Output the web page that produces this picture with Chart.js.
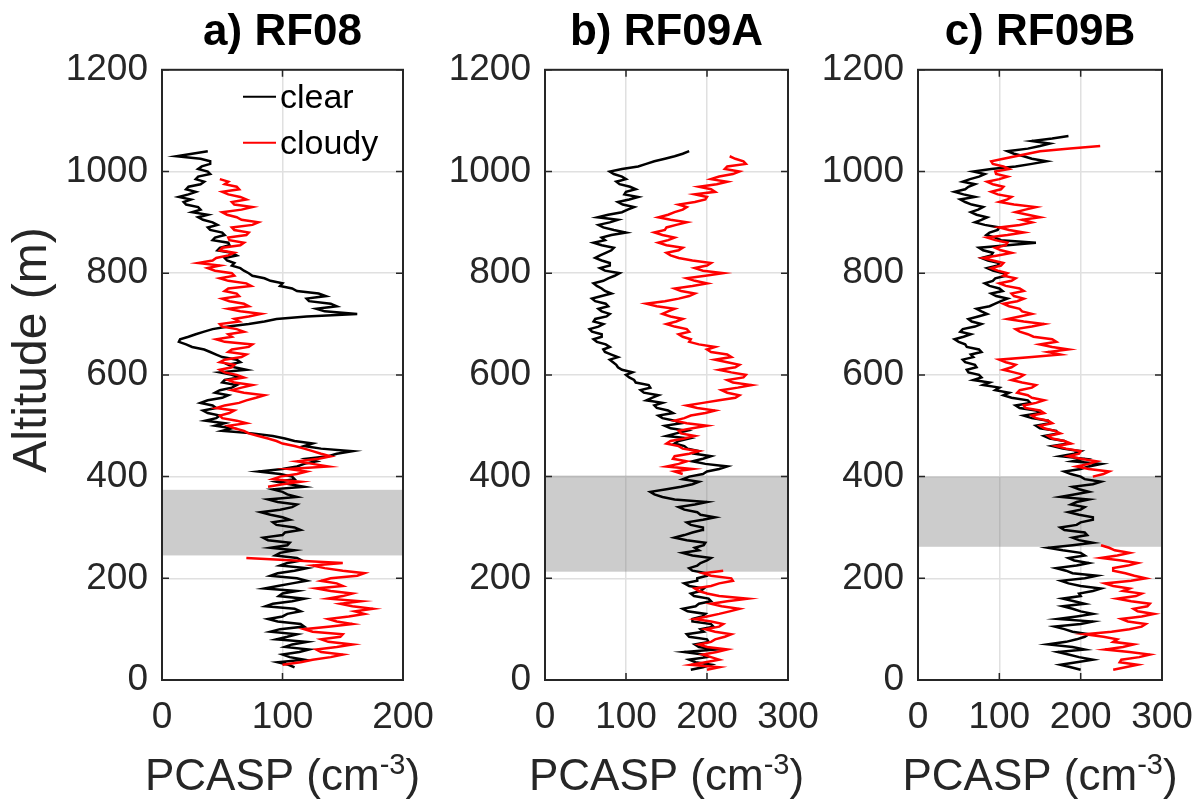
<!DOCTYPE html>
<html>
<head>
<meta charset="utf-8">
<script src="https://cdn.jsdelivr.net/npm/chart.js@4.4.1/dist/chart.umd.min.js"></script>
<style>
html, body { margin: 0; padding: 0; background: #fff; overflow: hidden; }
canvas { position: absolute; top: 0; }
</style>
</head>
<body>
<canvas id="panelA" width="450" height="807" style="left:0px"></canvas>
<canvas id="panelB" width="390" height="807" style="left:440px"></canvas>
<canvas id="panelC" width="386" height="807" style="left:815px"></canvas>
<script>
// Altitude levels (m), 5 m apart, shared by all profiles
var altitude = [
    20, 25, 30, 35, 40, 45, 50, 55, 60, 65, 70, 75, 80, 85, 90, 95, 100, 105, 110, 115,
    120, 125, 130, 135, 140, 145, 150, 155, 160, 165, 170, 175, 180, 185, 190, 195, 200, 205, 210, 215,
    220, 225, 230, 235, 240, 245, 250, 255, 260, 265, 270, 275, 280, 285, 290, 295, 300, 305, 310, 315,
    320, 325, 330, 335, 340, 345, 350, 355, 360, 365, 370, 375, 380, 385, 390, 395, 400, 405, 410, 415,
    420, 425, 430, 435, 440, 445, 450, 455, 460, 465, 470, 475, 480, 485, 490, 495, 500, 505, 510, 515,
    520, 525, 530, 535, 540, 545, 550, 555, 560, 565, 570, 575, 580, 585, 590, 595, 600, 605, 610, 615,
    620, 625, 630, 635, 640, 645, 650, 655, 660, 665, 670, 675, 680, 685, 690, 695, 700, 705, 710, 715,
    720, 725, 730, 735, 740, 745, 750, 755, 760, 765, 770, 775, 780, 785, 790, 795, 800, 805, 810, 815,
    820, 825, 830, 835, 840, 845, 850, 855, 860, 865, 870, 875, 880, 885, 890, 895, 900, 905, 910, 915,
    920, 925, 930, 935, 940, 945, 950, 955, 960, 965, 970, 975, 980, 985, 990, 995, 1000, 1005, 1010, 1015,
    1020, 1025, 1030, 1035, 1040, 1045, 1050, 1055, 1060, 1065, 1070
];

// PCASP (cm-3), one value per altitude level (null = no data)
var rf08Clear = [
    null, 110, 105, 96, 118, 106, 100, 114, 122, 102, 108, 120, 95, 104, 112, 90, 98, 118, 115, 96,
    88, 100, 104, 115, 110, 86, 92, 108, 118, 97, 100, 112, 85, 96, 108, 120, 112, 90, 96, 110,
    120, 98, 104, 116, 112, 94, 98, 110, 90, 104, 106, 88, 84, 100, 102, 115, 110, 95, 92, 106,
    100, 90, 82, 98, 108, 112, 96, 88, 112, 104, 100, 92, 118, 106, 95, 110, 108, 98, 80, 100,
    112, 118, 128, 120, 138, 145, 158, 132, 118, 125, 110, 102, 92, 75, 50, 58, 44, 52, 36, 45,
    48, 38, 34, 45, 42, 32, 38, 50, 55, 44, 48, 58, 62, 50, 52, 64, 58, 48, 70, 60,
    55, 65, 62, 50, 45, 40, 35, 25, 20, 14, 15, 22, 28, 35, 42, 55, 72, 85, 95, 120,
    162, 135, 128, 145, 140, 122, 120, 136, 130, 112, 108, 98, 100, 90, 85, 75, 72, 68, 65, 58,
    60, 54, 52, 62, 58, 46, 48, 56, 55, 42, 44, 52, 50, 40, 38, 46, 42, 34, 30, 38,
    25, 32, 30, 20, 18, 24, 14, 22, 28, 20, 22, 32, 35, 28, 30, 40, 38, 30, 33, 40,
    40, 32, 12, 25, 38, null, null, null, null, null, null
];
var rf08Cloudy = [
    null, null, 100, 115, 125, 140, 150, 132, 128, 145, 158, 138, 132, 148, 150, 125, 118, 140, 158, 145,
    138, 155, 168, 160, 175, 158, 148, 165, 138, 150, 158, 140, 128, 150, 145, 132, 140, 162, 168, 150,
    135, 125, 150, 110, 70, null, null, null, null, null, null, null, null, null, null, null, null, null, null, null,
    null, null, null, null, null, null, null, null, null, null, null, null, 88, 100, 115, 92, 98, 112, 120, 105,
    138, 125, 112, 130, 140, 132, 125, 118, 110, 100, 95, 88, 80, 72, 68, 60, 55, 70, 62, 50,
    48, 56, 60, 45, 52, 64, 70, 78, 85, 68, 58, 66, 75, 60, 55, 68, 62, 52, 48, 58,
    60, 48, 52, 66, 70, 55, 58, 72, 75, 52, 45, 58, 55, 68, 62, 50, 48, 64, 60, 72,
    82, 65, 55, 72, 68, 56, 50, 64, 62, 52, 55, 74, 70, 55, 48, 60, 58, 44, 38, 48,
    30, 42, 45, 55, 60, 48, 50, 65, 68, 56, 55, 70, 72, 60, 58, 75, 80, 66, 62, 54,
    50, 66, 75, 60, 58, 70, 65, 55, 50, 64, 62, 52, 55, 48, null, null, null, null, null, null,
    null, null, null, null, null, null, null, null, null, null, null
];
var rf09aClear = [
    180, 195, 205, 186, 178, 200, 195, 172, 210, 190, 185, 202, 200, 178, 175, 196, 192, 208, 205, 182,
    182, 194, 198, 176, 170, 186, 190, 205, 202, 184, 180, 192, 196, 178, 172, 188, 188, 200, 200, 182,
    178, 188, 192, 200, 205, 182, 170, 190, 185, 196, 198, 175, 160, 172, 182, 194, 195, 180, 175, 195,
    210, 192, 188, 172, 165, 185, 200, 160, 145, 135, 130, 150, 168, 182, 190, 170, 178, 195, 200, 215,
    225, 198, 182, 195, 205, 185, 190, 176, 172, 160, 165, 178, 150, 162, 175, 155, 148, 168, 160, 145,
    140, 158, 152, 138, 135, 145, 125, 132, 140, 122, 118, 130, 128, 112, 110, 104, 100, 108, 95, 90,
    88, 84, 80, 90, 82, 74, 72, 80, 75, 64, 60, 70, 70, 58, 55, 66, 72, 60, 62, 76,
    80, 70, 66, 78, 75, 62, 58, 70, 82, 74, 70, 64, 60, 72, 78, 86, 92, 74, 68, 80,
    80, 70, 62, 68, 75, 82, 85, 70, 60, 74, 70, 82, 100, 85, 72, 66, 80, 90, 65, 78,
    95, 102, 110, 96, 90, 104, 115, 98, 100, 112, 105, 92, 88, 100, 95, 85, 80, 95, 115, 125,
    135, 148, 160, 170, 178, null, null, null, null, null, null
];
var rf09aCloudy = [
    200, 215, 180, 198, 215, 205, 195, 212, 225, 200, 190, 205, 210, 222, 230, 210, 198, 215, 220, 205,
    185, 200, 215, 228, 240, 218, 205, 225, 250, 215, 200, 190, 185, 205, 215, 232, 230, 205, 195, 220,
    null, null, null, null, null, null, null, null, null, null, null, null, null, null, null, null, null, null, null, null,
    null, null, null, null, null, null, null, null, null, null, null, null, null, null, null, null, null, 170, 160, 182,
    150, 165, 175, 158, 160, 178, 190, 170, 165, 150, 155, 172, 185, 168, 165, 182, 200, 175, 160, 172,
    180, 198, 210, 188, 175, 195, 215, 235, 240, 225, 218, 238, 255, 232, 225, 245, 248, 230, 215, 235,
    240, 225, 210, 230, 225, 205, 200, 210, 190, 178, 180, 170, 165, 178, 175, 160, 150, 162, 170, 155,
    145, 152, 160, 138, 125, 148, 165, 178, 185, 168, 160, 182, 200, 185, 175, 198, 220, 195, 185, 200,
    205, 182, 165, 155, 150, 165, 170, 150, 140, 152, 160, 145, 135, 148, 150, 162, 175, 155, 140, 152,
    160, 170, 175, 165, 185, 198, 200, 185, 210, 205, 190, 212, 225, 205, 215, 232, 240, 222, 225, 248,
    245, 235, 228, null, null, null, null, null, null, null, null
];
var rf09bClear = [
    200, 188, 175, 195, 215, 198, 185, 172, 205, 190, 160, 182, 195, 205, 210, 190, 180, 168, 200, 215,
    172, 195, 215, 200, 190, 178, 205, 192, 178, 200, 198, 215, 225, 200, 185, 176, 205, 220, 190, 182,
    170, 195, 210, 192, 185, 205, 200, 178, 160, 190, 215, 198, 190, 208, 205, 180, 175, 195, 200, 215,
    215, 198, 185, 200, 205, 188, 195, 210, 175, 192, 210, 198, 190, 215, 225, 205, 200, 188, 180, 200,
    210, 225, 190, 205, 175, 192, 200, 178, 165, 185, 180, 162, 155, 172, 170, 150, 145, 162, 160, 140,
    130, 150, 145, 125, 120, 138, 135, 115, 105, 112, 95, 100, 80, 88, 68, 78, 75, 62, 60, 72,
    70, 58, 55, 68, 65, 78, 75, 60, 58, 50, 45, 56, 65, 52, 55, 70, 78, 66, 62, 74,
    85, 78, 72, 88, 95, 102, 110, 96, 90, 104, 100, 88, 82, 92, 95, 108, 105, 92, 85, 98,
    100, 86, 78, 90, 92, 80, 75, 110, 145, 102, 95, 84, 88, 98, 100, 82, 70, 78, 85, 72,
    65, 74, 80, 66, 58, 52, 70, 56, 45, 58, 62, 70, 55, 64, 75, 82, 68, 90, 120, 140,
    158, 140, 130, 118, 110, 135, 150, 162, 140, 165, 185
];
var rf09bCloudy = [
    240, 255, 270, 248, 250, 272, 285, 260, 230, 252, 265, 240, 245, 228, 205, 238, 260, 275, 280, 258,
    250, 275, 290, 270, 265, 282, 285, 262, 245, 268, 275, 252, 260, 240, 230, 262, 280, 266, 255, 240,
    240, 258, 270, 250, 225, 245, 260, 242, 235, 225, null, null, null, null, null, null, null, null, null, null,
    null, null, null, null, null, null, null, null, null, null, null, null, null, null, null, null, 215, 228, 235, 210,
    195, 210, 220, 200, 185, 198, 200, 182, 170, 188, 180, 165, 160, 175, 168, 155, 150, 165, 160, 145,
    140, 155, 150, 132, 130, 145, 155, 140, 135, 122, 125, 140, 145, 128, 115, 125, 130, 118, 105, 115,
    120, 108, 100, 140, 175, 160, 185, 165, 150, 170, 165, 142, 135, 125, 120, 140, 155, 130, 110, 125,
    140, 128, 125, 112, 105, 122, 130, 118, 115, 130, 125, 108, 100, 115, 120, 105, 110, 98, 90, 102,
    105, 92, 80, 98, 115, 102, 95, 108, 110, 95, 85, 110, 130, 112, 100, 125, 140, 128, 150, 135,
    120, 132, 145, 118, 100, 110, 115, 98, 90, 102, 105, 92, 85, 100, 110, 96, 95, 112, 105, 92,
    90, 105, 120, 135, 150, 187, 224, null, null, null, null
];

var panelTitles = ['a) RF08', 'b) RF09A', 'c) RF09B'];
var xMax = [200, 300, 300];
var bandBottom = [245, 213, 262];  // grey layer, m
var bandTop = [374, 402, 400];
var legendLabels = ['clear', 'cloudy'];

var FONT = '"Liberation Sans", Arial, Helvetica, sans-serif';
var AXIS_COLOR = '#262626';

function profile(vals) {
    return altitude.map(function(a, i) { return { x: vals[i], y: a }; });
}

// Grey band, box with inward ticks, axis labels and the in-plot legend
var panelDecor = {
    id: 'panelDecor',
    beforeDatasetsDraw: function(chart, args, opts) {
        var area = chart.chartArea, y = chart.scales.y, ctx = chart.ctx;
        var t = y.getPixelForValue(opts.bandTop), b = y.getPixelForValue(opts.bandBottom);
        ctx.save();
        ctx.fillStyle = 'rgba(128,128,128,0.4)';
        ctx.fillRect(area.left, t, area.right - area.left, b - t);
        ctx.restore();
    },
    afterDatasetsDraw: function(chart) {
        var area = chart.chartArea, ctx = chart.ctx;
        var xs = chart.scales.x, ys = chart.scales.y;
        ctx.save();
        ctx.strokeStyle = AXIS_COLOR;
        ctx.lineWidth = 1.5;
        ctx.beginPath();
        xs.ticks.forEach(function(t) {
            var px = xs.getPixelForValue(t.value);
            ctx.moveTo(px, area.bottom); ctx.lineTo(px, area.bottom - 7);
            ctx.moveTo(px, area.top); ctx.lineTo(px, area.top + 7);
        });
        ys.ticks.forEach(function(t) {
            var py = ys.getPixelForValue(t.value);
            ctx.moveTo(area.left, py); ctx.lineTo(area.left + 7, py);
            ctx.moveTo(area.right, py); ctx.lineTo(area.right - 7, py);
        });
        ctx.stroke();
        ctx.lineWidth = 2;
        ctx.strokeRect(area.left, area.top, area.right - area.left, area.bottom - area.top);
        ctx.restore();
    },
    afterDraw: function(chart, args, opts) {
        var area = chart.chartArea, ctx = chart.ctx;
        ctx.save();
        // x label: PCASP (cm^-3)
        var big = '44px ' + FONT, small = '29px ' + FONT;
        ctx.fillStyle = AXIS_COLOR;
        ctx.textBaseline = 'alphabetic';
        ctx.textAlign = 'left';
        ctx.font = big;
        var w1 = ctx.measureText('PCASP (cm').width, w3 = ctx.measureText(')').width;
        ctx.font = small;
        var w2 = ctx.measureText('-3').width;
        var x0 = (area.left + area.right) / 2 - (w1 + w2 + w3) / 2, base = chart.height - 17;
        ctx.font = big;
        ctx.fillText('PCASP (cm', x0, base);
        ctx.font = small;
        ctx.fillText('-3', x0 + w1, base - 16);
        ctx.font = big;
        ctx.fillText(')', x0 + w1 + w2, base);

        if (opts.yTitle) {
            ctx.save();
            ctx.translate(33, 350);
            ctx.rotate(-Math.PI / 2);
            ctx.font = '48px ' + FONT;
            ctx.textAlign = 'center';
            ctx.textBaseline = 'middle';
            ctx.fillText(opts.yTitle, 0, 0);
            ctx.restore();
        }

        if (opts.legend) {
            var colors = ['#000000', '#ff0000'];
            ctx.font = '34px ' + FONT;
            ctx.textAlign = 'left';
            legendLabels.forEach(function(lbl, i) {
                var ly = area.top + 27 + i * 46;
                ctx.strokeStyle = colors[i];
                ctx.lineWidth = 2;
                ctx.beginPath();
                ctx.moveTo(area.left + 81, ly);
                ctx.lineTo(area.left + 114, ly);
                ctx.stroke();
                ctx.fillStyle = '#000';
                ctx.textBaseline = 'middle';
                ctx.fillText(lbl, area.left + 118, ly + 2);
            });
        }
        ctx.restore();
    }
};

function makePanel(canvasId, idx, clearVals, cloudyVals, yWidth, padRight) {
    return new Chart(document.getElementById(canvasId), {
        type: 'scatter',
        data: {
            datasets: [
                {
                    label: legendLabels[0],
                    data: profile(clearVals),
                    showLine: true,
                    borderColor: '#000000',
                    borderWidth: 2.5,
                    pointRadius: 0,
                    order: 1
                },
                {
                    label: legendLabels[1],
                    data: profile(cloudyVals),
                    showLine: true,
                    borderColor: '#ff0000',
                    borderWidth: 2.5,
                    pointRadius: 0,
                    order: 0
                }
            ]
        },
        options: {
            responsive: false,
            animation: false,
            devicePixelRatio: 1,
            layout: { padding: { left: 0, right: padRight, top: 0, bottom: 0 } },
            plugins: {
                legend: { display: false },
                tooltip: { enabled: false },
                title: {
                    display: true,
                    text: panelTitles[idx],
                    fullSize: false,
                    color: '#000',
                    font: { family: FONT, size: 44, weight: 'bold' },
                    padding: { top: 6, bottom: 11 }
                },
                panelDecor: {
                    bandTop: bandTop[idx],
                    bandBottom: bandBottom[idx],
                    legend: idx === 0,
                    yTitle: idx === 0 ? 'Altitude (m)' : null
                }
            },
            scales: {
                x: {
                    type: 'linear',
                    min: 0,
                    max: xMax[idx],
                    afterFit: function(s) { s.height = 127; s.paddingLeft = 0; s.paddingRight = 0; },
                    ticks: {
                        stepSize: 100, autoSkip: false, maxRotation: 0, padding: 16,
                        color: AXIS_COLOR, font: { family: FONT, size: 37 },
                        callback: function(v) { return String(v); }
                    },
                    grid: { color: '#e0e0e0', lineWidth: 1.5, drawTicks: false },
                    border: { display: false }
                },
                y: {
                    type: 'linear',
                    min: 0,
                    max: 1200,
                    afterFit: function(s) { s.width = yWidth; s.paddingTop = 0; s.paddingBottom = 0; },
                    ticks: {
                        stepSize: 200, padding: 14,
                        color: AXIS_COLOR, font: { family: FONT, size: 37 },
                        callback: function(v) { return String(v); }
                    },
                    grid: { color: '#e0e0e0', lineWidth: 1.5, drawTicks: false },
                    border: { display: false }
                }
            }
        },
        plugins: [panelDecor]
    });
}

makePanel('panelA', 0, rf08Clear, rf08Cloudy, 162, 47);
makePanel('panelB', 1, rf09aClear, rf09aCloudy, 105, 42);
makePanel('panelC', 2, rf09bClear, rf09bCloudy, 103, 39);
</script>
</body>
</html>
